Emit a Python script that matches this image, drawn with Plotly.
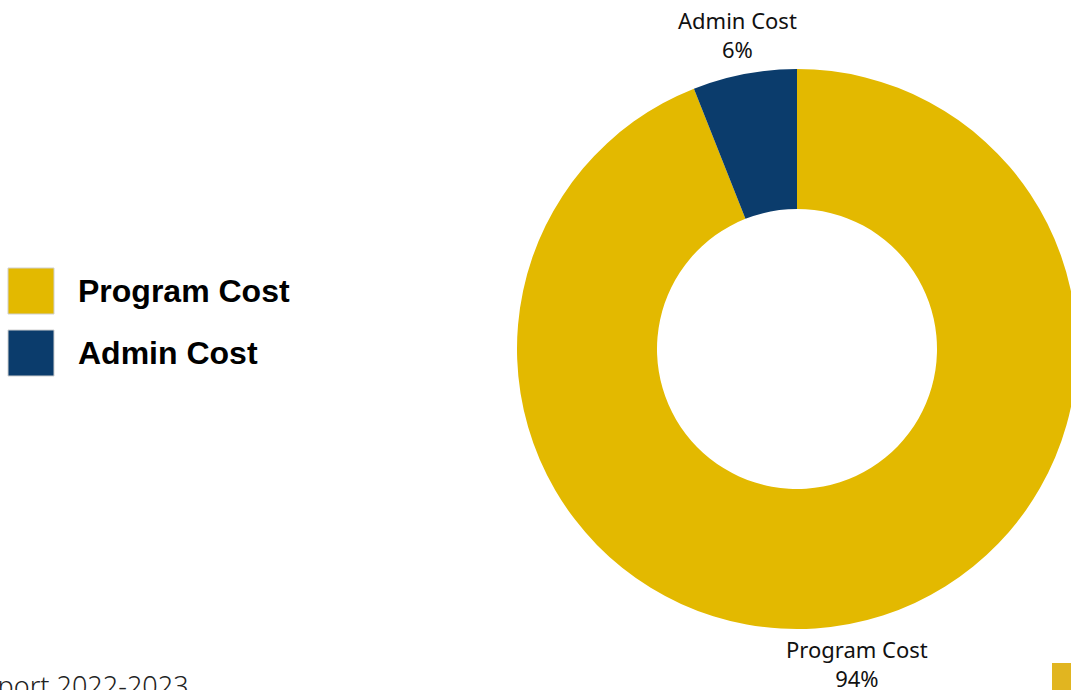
import math
import plotly.graph_objects as go

# Data
labels = ["Program Cost", "Admin Cost"]
values = [94, 6]
colors = ["#E3B900", "#0B3C6C"]
footer_text = "Annual Report 2022-2023"

W, H = 1080, 690

# pie geometry (pixels)
CX, CY, R = 797, 349, 280
LABEL_R = 320

fig = go.Figure()
fig.add_trace(go.Pie(
    labels=labels,
    values=values,
    hole=0.5,
    sort=False,
    direction="clockwise",
    rotation=0,
    marker=dict(colors=colors, line=dict(width=0)),
    textinfo="none",
    domain=dict(x=[(CX - R) / W, (CX + R) / W], y=[1 - (CY + R) / H, 1 - (CY - R) / H]),
    showlegend=False,
    hoverinfo="label+percent",
))

shapes = []
annotations = []

# Outside slice labels, positioned at the slice mid-angle derived from the data
total = sum(values)
cum = 0
for lab, v in zip(labels, values):
    mid = (cum + v / 2) / total * 2 * math.pi
    cum += v
    px = CX + LABEL_R * math.sin(mid)
    py = CY - LABEL_R * math.cos(mid)
    pct = round(v / total * 100)
    annotations.append(dict(
        text=f"{lab}<br>{pct}%", xref="paper", yref="paper",
        x=px / W, y=1 - py / H, xanchor="center", yanchor="middle",
        showarrow=False, align="center",
        font=dict(family="Noto Sans", size=22, color="#111111"),
    ))

# Custom legend (large swatches)
for i, (lab, col) in enumerate(zip(labels, colors)):
    y_top = 268 + i * 62
    shapes.append(dict(
        type="rect", xref="paper", yref="paper",
        x0=8 / W, x1=54 / W, y0=1 - (y_top + 46) / H, y1=1 - y_top / H,
        fillcolor=col, line=dict(width=1, color="#cfcfcf"),
    ))
    annotations.append(dict(
        text="<b>" + lab + "</b>", xref="paper", yref="paper",
        x=76 / W, y=1 - (y_top + 23) / H, xanchor="left", yanchor="middle",
        showarrow=False, font=dict(family="Liberation Sans", size=32, color="#000000"),
    ))

# Footer text (partly cut off on the left and bottom)
annotations.append(dict(
    text=footer_text, xref="paper", yref="paper",
    x=191 / W, y=1 - 685 / H, xanchor="right", yanchor="middle",
    showarrow=False, font=dict(family="Noto Sans", size=27, color="#222222", weight=300),
))

# Decorative square at bottom right
shapes.append(dict(
    type="rect", xref="paper", yref="paper",
    x0=1052 / W, x1=1080 / W, y0=0, y1=1 - 663 / H,
    fillcolor="#E1B520", line=dict(width=0),
))

fig.update_layout(
    width=W, height=H,
    margin=dict(l=0, r=0, t=0, b=0),
    paper_bgcolor="white",
    plot_bgcolor="white",
    shapes=shapes,
    annotations=annotations,
)

fig.write_html(
    "out.html",
    post_script="document.body.style.margin='0';document.body.style.overflow='hidden';document.documentElement.style.overflow='hidden';",
)
